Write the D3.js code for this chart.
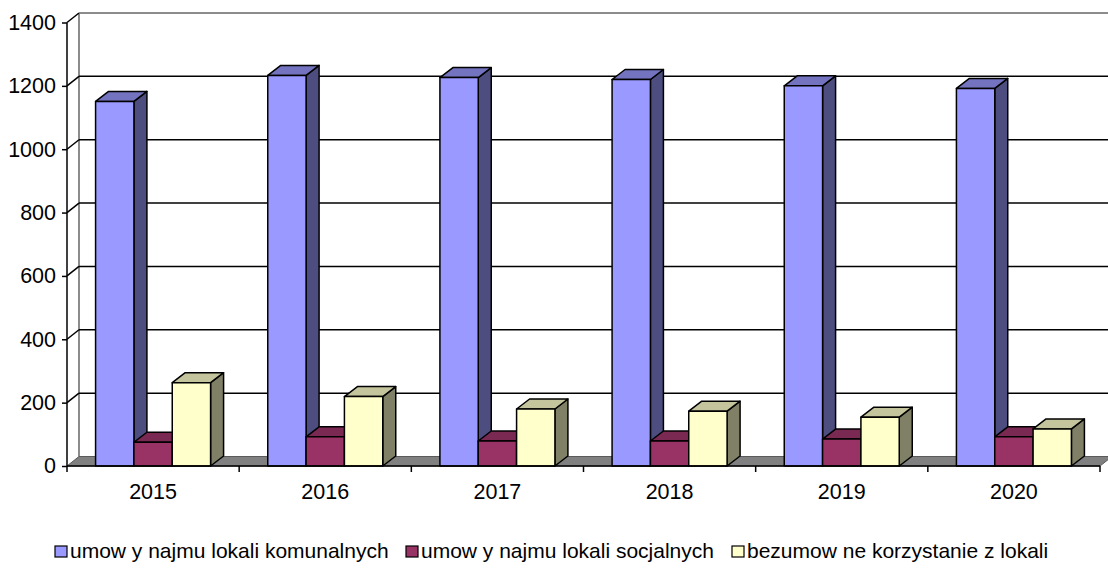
<!DOCTYPE html>
<html>
<head>
<meta charset="utf-8">
<script src="https://cdn.jsdelivr.net/npm/d3@7"></script>
<style>
  body { margin: 0; background: #fff; }
  text { font-family: "Liberation Sans", Arial, sans-serif; fill: #000; }
</style>
</head>
<body>
<div id="chart"></div>
<script>
// data
var years = ["2015", "2016", "2017", "2018", "2019", "2020"];
var seriesNames = ["umow y najmu lokali komunalnych",
                   "umow y najmu lokali socjalnych",
                   "bezumow ne korzystanie z lokali"];
var komunalne = [1151, 1233, 1226, 1220, 1200, 1192];
var socjalne  = [75, 92, 79, 79, 85, 92];
var bezumowne = [263, 219, 180, 173, 154, 117];
var yTicks = [0, 200, 400, 600, 800, 1000, 1200, 1400];

// front, top, side colours per series
var palette = [
  ["#9999ff", "#7373bf", "#4d4d80"],
  ["#993366", "#7a2952", "#4d1a33"],
  ["#ffffcc", "#c4c49d", "#808066"]
];

var width = 1108, height = 571;
var series = [komunalne, socjalne, bezumowne];

var svg = d3.select("#chart").append("svg")
            .attr("width", width)
            .attr("height", height);

// 3d offset of the back wall
var dx = 12, dy = 9.5;
var x0 = 67, x1 = 1100;

var yScale = d3.scaleLinear().domain([0, 1400]).range([466, 22.5]);
var xScale = d3.scaleBand().domain(years).range([x0, x1]);
var groupW = 115;
var xSub = d3.scaleBand().domain(d3.range(series.length)).range([0, groupW]);
var groupOff = (xScale.bandwidth() - groupW) / 2;

// back wall edges
svg.append("line")
   .attr("x1", x0 + dx).attr("x2", width + 5)
   .attr("y1", yScale(1400) - dy).attr("y2", yScale(1400) - dy)
   .style("stroke", "#8c8c8c").style("stroke-width", 2);
svg.append("line")
   .attr("x1", x0 + dx).attr("x2", x0 + dx)
   .attr("y1", yScale(1400) - dy).attr("y2", yScale(0) - dy)
   .style("stroke", "#8c8c8c").style("stroke-width", 2);

// gridlines on the back wall plus the stubs on the side wall
var grid = svg.append("g");
grid.selectAll("line.back")
    .data(yTicks.filter(function(d) { return d > 0 && d < 1400; }))
    .enter().append("line")
    .attr("class", "back")
    .attr("x1", x0 + dx).attr("x2", width + 5)
    .attr("y1", function(d) { return yScale(d) - dy; })
    .attr("y2", function(d) { return yScale(d) - dy; })
    .style("stroke", "#000").style("stroke-width", 1.5);
grid.selectAll("line.stub")
    .data(yTicks.filter(function(d) { return d > 0; }))
    .enter().append("line")
    .attr("class", "stub")
    .attr("x1", x0).attr("x2", x0 + dx)
    .attr("y1", function(d) { return yScale(d); })
    .attr("y2", function(d) { return yScale(d) - dy; })
    .style("stroke", "#000").style("stroke-width", 1.5);

// floor
svg.append("path")
   .attr("d", d3.line()([[x0, yScale(0)], [x1, yScale(0)],
                        [x1 + dx, yScale(0) - dy], [x0 + dx, yScale(0) - dy]]) + "Z")
   .style("fill", "#808080")
   .style("stroke", "#5a5a5a")
   .style("stroke-width", 1);

// bars, drawn left to right so the later ones cover the side faces
var bars = [];
years.forEach(function(yr, i) {
  series.forEach(function(s, j) {
    bars.push({year: yr, s: j, v: s[i]});
  });
});

var bw = xSub.bandwidth();
var bdx = 13, bdy = 10;
var barG = svg.append("g");
bars.forEach(function(d) {
  var bx = xScale(d.year) + groupOff + xSub(d.s),
      top = yScale(d.v),
      bot = yScale(0),
      g = barG.append("g").style("stroke", "#000")
              .style("stroke-width", 1.5).style("stroke-linejoin", "round");
  g.append("path")
   .attr("d", d3.line()([[bx + bw, top], [bx + bw + bdx, top - bdy],
                        [bx + bw + bdx, bot - bdy], [bx + bw, bot]]) + "Z")
   .style("fill", palette[d.s][2]);
  g.append("path")
   .attr("d", d3.line()([[bx, top], [bx + bw, top],
                        [bx + bw + bdx, top - bdy], [bx + bdx, top - bdy]]) + "Z")
   .style("fill", palette[d.s][1]);
  g.append("rect")
   .attr("x", bx).attr("y", top)
   .attr("width", bw).attr("height", bot - top)
   .style("fill", palette[d.s][0]);
});

// axes
var yAxis = d3.axisLeft(yScale).tickValues(yTicks)
              .tickFormat(d3.format("d"))
              .tickSize(5).tickPadding(6);
var yg = svg.append("g")
            .attr("transform", "translate(" + x0 + ",0)")
            .call(yAxis)
            .attr("font-size", 21.5)
            .attr("font-family", "'Liberation Sans', Arial, sans-serif");
yg.select(".domain").remove();
yg.append("line").attr("x1", 0).attr("x2", 0)
  .attr("y1", yScale(1400)).attr("y2", yScale(0))
  .style("stroke", "#000").style("stroke-width", 1.5);
yg.selectAll(".tick line").style("stroke-width", 1.5);

var xg = svg.append("g");
xg.append("line").attr("x1", x0).attr("x2", x1)
  .attr("y1", yScale(0)).attr("y2", yScale(0))
  .style("stroke", "#000").style("stroke-width", 1.5);
xg.selectAll("line.tick")
  .data(years.concat(["end"]))
  .enter().append("line")
  .attr("x1", function(d) { return d === "end" ? x1 : xScale(d); })
  .attr("x2", function(d) { return d === "end" ? x1 : xScale(d); })
  .attr("y1", yScale(0)).attr("y2", yScale(0) + 6)
  .style("stroke", "#000").style("stroke-width", 1.5);
xg.selectAll("text")
  .data(years)
  .enter().append("text")
  .attr("x", function(d) { return xScale(d) + xScale.bandwidth() / 2; })
  .attr("y", 499)
  .attr("text-anchor", "middle")
  .style("font-size", "21.5px")
  .text(function(d) { return d; });

// legend
var legX = [55, 406, 732];
var leg = svg.append("g").selectAll("g")
             .data(seriesNames)
             .enter().append("g")
             .attr("transform", function(d, i) {
               return "translate(" + legX[i] + ",546)";
             });
leg.append("rect")
   .attr("width", 12).attr("height", 11)
   .style("fill", function(d, i) { return palette[i][0]; })
   .style("stroke", "#000").style("stroke-width", 1.2);
leg.append("text")
   .attr("x", 15).attr("y", 12)
   .style("font-size", "21px")
   .text(function(d) { return d; });
</script>
</body>
</html>
